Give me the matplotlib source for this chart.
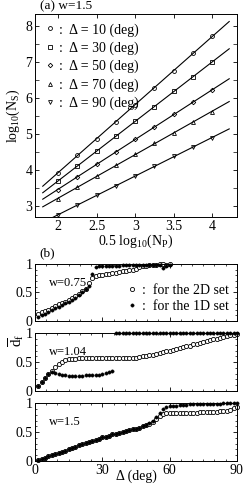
import numpy as np
import matplotlib
matplotlib.use("Agg")
import matplotlib.pyplot as plt
from matplotlib.ticker import MultipleLocator

plt.rcParams['font.family'] = ['Liberation Serif', 'DejaVu Serif']
plt.rcParams['mathtext.fontset'] = 'custom'
plt.rcParams['mathtext.rm'] = 'Liberation Serif'
plt.rcParams['mathtext.it'] = 'Liberation Serif:italic'
plt.rcParams['font.size'] = 10

# (a) log10(Ns) vs 0.5 log10(Np), w=1.5
half_log_np = [2.0, 2.25, 2.5, 2.75, 3.0, 3.25, 3.5, 3.75, 4.0]
deltas = [10, 30, 50, 70, 90]
ns_d10 = [3.93, 4.42, 4.87, 5.34, 5.81, 6.29, 6.76, 7.24, 7.71]
ns_d30 = [3.69, 4.11, 4.54, 4.95, 5.35, 5.76, 6.19, 6.59, 6.99]
ns_d50 = [3.46, 3.81, 4.17, 4.51, 4.85, 5.20, 5.55, 5.88, 6.22]
ns_d70 = [3.20, 3.53, 3.83, 4.14, 4.44, 4.74, 5.04, 5.33, 5.62]
ns_d90 = [2.75, 3.03, 3.31, 3.57, 3.84, 4.11, 4.38, 4.63, 4.90]
markers_a = ['o', 's', 'D', '^', 'v']

# (b) mean d_f vs Delta
delta_075 = [1.5 * (i + 1) for i in range(40)]
delta_full = [1.5 * (i + 1) for i in range(60)]

df2d_075 = [.12, .15, .18, .20, .23, .26, .29, .31, .34, .37, .40, .43, .47, .52, .57, .66,
            .75, .79, .80, .81, .82, .83, .84, .85, .86, .87, .88, .89, .90, .92, .94, .96,
            .97, .98, .99, .99, 1.0, 1.0, .99, 1.0]
df1d_075 = [.07, .10, .13, .16, .19, .22, .25, .28, .31, .34, .37, .41, .45, .50, .56, .62,
            .82, .95, .96, .96, .96, .97, .97, .97, .97, .98, .98, .98, .98, .99, .99, .99,
            .99, .99, .99, .99, .99, .93, .97, .98]

df2d_104 = [.09, .16, .22, .29, .35, .42, .47, .51, .54, .55, .56, .56, .57, .57, .57, .57,
            .57, .57, .57, .57, .57, .57, .57, .57, .57, .57, .57, .58, .58, .58, .59, .60,
            .61, .62, .63, .64, .66, .67, .69, .70, .72, .73, .75, .76, .78, .79, .81, .82,
            .84, .85, .87, .88, .90, .91, .93, .94, .96, .97, .98, .99]
df1d_104 = [.09, .16, .22, .30, .33, .31, .29, .27, .27, .26, .26, .26, .26, .26, .27, .27,
            .27, .28, .28, .29, .31, .33, .35, 1.0, 1.0, 1.0, 1.0, 1.0, 1.0, 1.0, 1.0, 1.0,
            1.0, 1.0, 1.0, 1.0, 1.0, 1.0, 1.0, 1.0, 1.0, 1.0, 1.0, 1.0, 1.0, 1.0, 1.0, 1.0,
            1.0, 1.0, 1.0, 1.0, 1.0, 1.0, 1.0, 1.0, 1.0, 1.0, 1.0, 1.0]

df2d_150 = [.02, .03, .06, .08, .10, .12, .14, .16, .18, .21, .23, .25, .27, .29, .31, .33,
            .35, .37, .39, .41, .42, .44, .46, .47, .49, .50, .52, .53, .55, .56, .58, .60,
            .62, .64, .68, .72, .78, .81, .83, .84, .84, .84, .84, .84, .84, .84, .84, .84,
            .85, .85, .85, .85, .85, .85, .86, .86, .87, .88, .91, .94]
df1d_150 = [.02, .03, .06, .08, .10, .12, .14, .16, .18, .21, .23, .25, .27, .29, .31, .33,
            .35, .37, .39, .41, .42, .44, .46, .47, .49, .50, .52, .53, .55, .56, .58, .60,
            .62, .65, .70, .76, .84, .90, .94, .95, .96, .96, .97, .97, .97, .98, .98, .98,
            .98, .99, .99, .99, .99, .99, .99, 1.0, 1.0, 1.0, 1.0, 1.0]

fig = plt.figure(figsize=(2.45, 4.86), dpi=100)


def style(ax):
    ax.tick_params(which='both', direction='in', top=True, right=True, labelsize=10, pad=2)
    ax.tick_params(which='major', length=3, width=0.6)
    ax.tick_params(which='minor', length=1.6, width=0.5)
    for s in ax.spines.values():
        s.set_linewidth(0.7)


# panel (a)
axa = fig.add_axes([0.143, 0.5535, 0.824, 0.4177])
series = [ns_d10, ns_d30, ns_d50, ns_d70, ns_d90]
xfit = np.array([1.8, 4.22])
for d, ys, m in zip(deltas, series, markers_a):
    ms = 2.8 if m != 'D' else 2.3
    axa.plot(half_log_np, ys, linestyle='none', marker=m, ms=ms, mfc='white', mec='black',
             mew=0.6, label=':  \u0394 = %d (deg)' % d)
    k, b = np.polyfit(half_log_np, ys, 1)
    axa.plot(xfit, k * xfit + b, color='black', lw=0.8)
axa.set_xlim(1.7, 4.32)
axa.set_ylim(2.7, 8.33)
axa.yaxis.set_major_locator(MultipleLocator(1))
axa.yaxis.set_minor_locator(MultipleLocator(0.5))
axa.set_xticks([2, 2.5, 3, 3.5, 4])
axa.set_xticklabels(['2', '2.5', '3', '3.5', '4'])
style(axa)
axa.tick_params(which='minor', length=3)
axa.set_xlabel(r'0.5 log$_{10}$(N$_{\rm P}$)', labelpad=0)
axa.set_ylabel(r'log$_{10}$(N$_{\rm S}$)', labelpad=2)
axa.legend(loc='upper left', frameon=False, handlelength=0.8, handletextpad=0.3,
           labelspacing=0.35, borderaxespad=0.25, fontsize=10)
fig.text(0.165, 0.974, '(a) w=1.5', fontsize=9.5, va='bottom')

# panel (b)
b_pos = [0.3395, 0.1955, 0.0514]
b_h = [0.1173, 0.1183, 0.1188]
b_data = [(delta_075, df2d_075, df1d_075, 'w=0.75'),
          (delta_full, df2d_104, df1d_104, 'w=1.04'),
          (delta_full, df2d_150, df1d_150, 'w=1.5')]
axes_b = []
for pos, h, (dx, y2, y1, lab) in zip(b_pos, b_h, b_data):
    ax = fig.add_axes([0.143, pos, 0.824, h])
    ax.plot(dx, y2, linestyle='none', marker='o', ms=3.0, mfc='white', mec='black', mew=0.6,
            clip_on=False, label=':  for the 2D set')
    ax.plot(dx, y1, linestyle='none', marker='o', ms=2.4, mfc='black', mec='black', mew=0.3,
            clip_on=False, label=':  for the 1D set')
    ax.set_xlim(0, 90)
    ax.set_ylim(0, 1)
    ax.xaxis.set_major_locator(MultipleLocator(30))
    ax.xaxis.set_minor_locator(MultipleLocator(5))
    ax.yaxis.set_major_locator(MultipleLocator(0.5))
    ax.yaxis.set_minor_locator(MultipleLocator(0.1))
    style(ax)
    ax.text(0.07, 0.62, lab, transform=ax.transAxes, fontsize=9)
    axes_b.append(ax)

for ax in axes_b:
    ax.set_yticks([0, 0.5, 1])
    ax.set_yticklabels(['0', '0.5', '1'])
for ax in axes_b[:2]:
    ax.set_xticklabels([])
axes_b[2].set_xticks([0, 30, 60, 90])
axes_b[2].set_xticklabels(['0', '30', '60', '90'])
axes_b[2].set_xlabel('\u0394 (deg)', labelpad=-5)
axes_b[0].legend(loc='lower right', frameon=False, handlelength=0.8, handletextpad=0.3,
                 labelspacing=0.2, borderaxespad=0.2, fontsize=10)
fig.text(0.16, 0.466, '(b)', fontsize=9.5, va='bottom')
fig.text(0.025, 0.30, r'$\overline{\rm d}_{\rm f}$', rotation=90, fontsize=11, va='center')

fig.savefig('out.png', dpi=100)
